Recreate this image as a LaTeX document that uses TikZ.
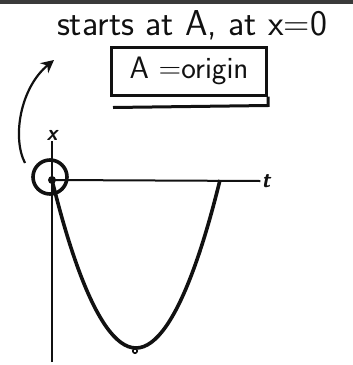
\documentclass[tikz,border=0pt]{standalone}
\usepackage{tikz}
\usetikzlibrary{arrows.meta,positioning}
\definecolor{SketchInk}{HTML}{111111}
\definecolor{SketchRule}{HTML}{3A3A3A}
\tikzset{
  axisline/.style={line width=2pt,draw=SketchInk},
  curveline/.style={line width=3.6pt,draw=SketchInk},
  handtext/.style={font=\sffamily\fontsize{36}{40}\selectfont,text=SketchInk,inner sep=0pt},
  axislabel/.style={font=\sffamily\itshape\bfseries\fontsize{22}{24}\selectfont,text=SketchInk,inner sep=1pt},
  notebox/.style={font=\sffamily\fontsize{31}{33}\selectfont,text=SketchInk,draw=SketchInk,line width=3pt,minimum width=155pt,minimum height=48pt,inner xsep=3pt},
  startmark/.style={circle,draw=SketchInk,line width=3.6pt,minimum size=34pt,inner sep=0pt},
  pointarrow/.style={-{Stealth[length=4.5mm,width=4.5mm]},line width=2.2pt,draw=SketchInk}
}
\begin{document}
\begin{tikzpicture}[x=1pt,y=-1pt]
  \useasboundingbox (0,0) rectangle (353,365);
  % rule along the top edge
  \draw[line width=4pt,SketchRule] (0,2) -- (353,2);

  % notes
  \node[handtext] (title) at (192,25) {starts at A, at x=0};
  \node[notebox] (eqbox) at (189,71) {A =origin};
  \draw[line width=3pt,SketchInk] ([xshift=3pt,yshift=-11pt]eqbox.south west)
    -- ([yshift=-9pt]eqbox.south east) -- (eqbox.south east);

  % axes
  \coordinate (O) at (52,180);
  \coordinate (ybot) at (52,362);
  \node[axislabel] (xlabel) at (52,135) {x};
  \node[axislabel] (tlabel) at (266,181) {t};
  \draw[axisline] (ybot) -- (xlabel.south);
  \draw[axisline] (O) -- (tlabel.west);

  % path of the motion
  \coordinate (bottom) at (136,348);
  \coordinate (root) at (220,180);
  \draw[curveline] (O) parabola bend (bottom) (root);
  \draw[line width=1.6pt,SketchInk] (135,351) circle (2.2pt);

  % start point
  \fill[SketchInk] (O) circle (4pt);
  \node[startmark] (start) at (50,177) {};
  \coordinate (arrowtail) at (25,163);
  \coordinate (arrowtip) at (54,60);
  \draw[pointarrow] (arrowtail) .. controls (12,138) and (20,88) .. (arrowtip);
\end{tikzpicture}
\end{document}
